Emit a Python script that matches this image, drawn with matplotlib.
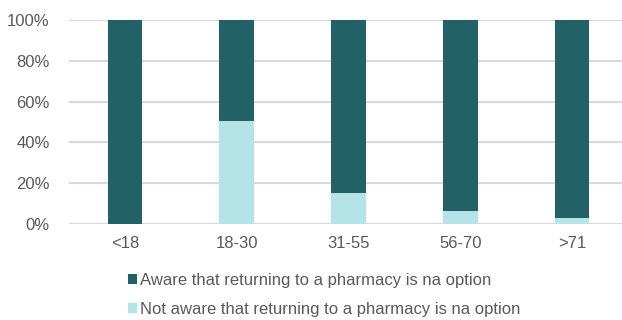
import matplotlib.pyplot as plt
import numpy as np

plt.rcParams['font.family'] = ['Liberation Sans', 'DejaVu Sans']

groups = ['<18', '18-30', '31-55', '56-70', '>71']
not_aware = [0, 50.5, 15, 6.5, 3]
aware = [100 - v for v in not_aware]
labels = ['Aware that returning to a pharmacy is na option',
          'Not aware that returning to a pharmacy is na option']

dark = '#226266'
light = '#b4e4e8'
grey = '#595959'

fig = plt.figure(figsize=(6.22, 3.2), dpi=100)
W, H = 622, 320
ax = fig.add_axes([69 / W, 1 - 224 / H, (628 - 69) / W, 204 / H])

x = np.arange(len(groups))
b2 = ax.bar(x, not_aware, width=0.31, color=light, zorder=3, label=labels[1])
b1 = ax.bar(x, aware, bottom=not_aware, width=0.31, color=dark, zorder=3, label=labels[0])

ax.set_xlim(-0.5, 4.5)
ax.set_ylim(0, 100)
ax.set_yticks(range(0, 101, 20))
ax.set_yticklabels([f'{v}%' for v in range(0, 101, 20)])
ax.set_xticks(x)
ax.set_xticklabels(groups)
ax.grid(axis='y', color='#d9d9d9', linewidth=1.5, zorder=0)
for s in ax.spines.values():
    s.set_visible(False)
ax.tick_params(length=0, colors=grey, labelsize=12)
ax.tick_params(axis='y', pad=14)
ax.tick_params(axis='x', pad=9)

fig.legend([b1, b2], labels, loc='upper left', bbox_to_anchor=(113 / W, 1 - 258 / H),
           frameon=False, fontsize=12, labelcolor=grey, handlelength=0.55,
           handleheight=0.55, handletextpad=0.2, labelspacing=0.85)

fig.savefig('out.png', dpi=100)
